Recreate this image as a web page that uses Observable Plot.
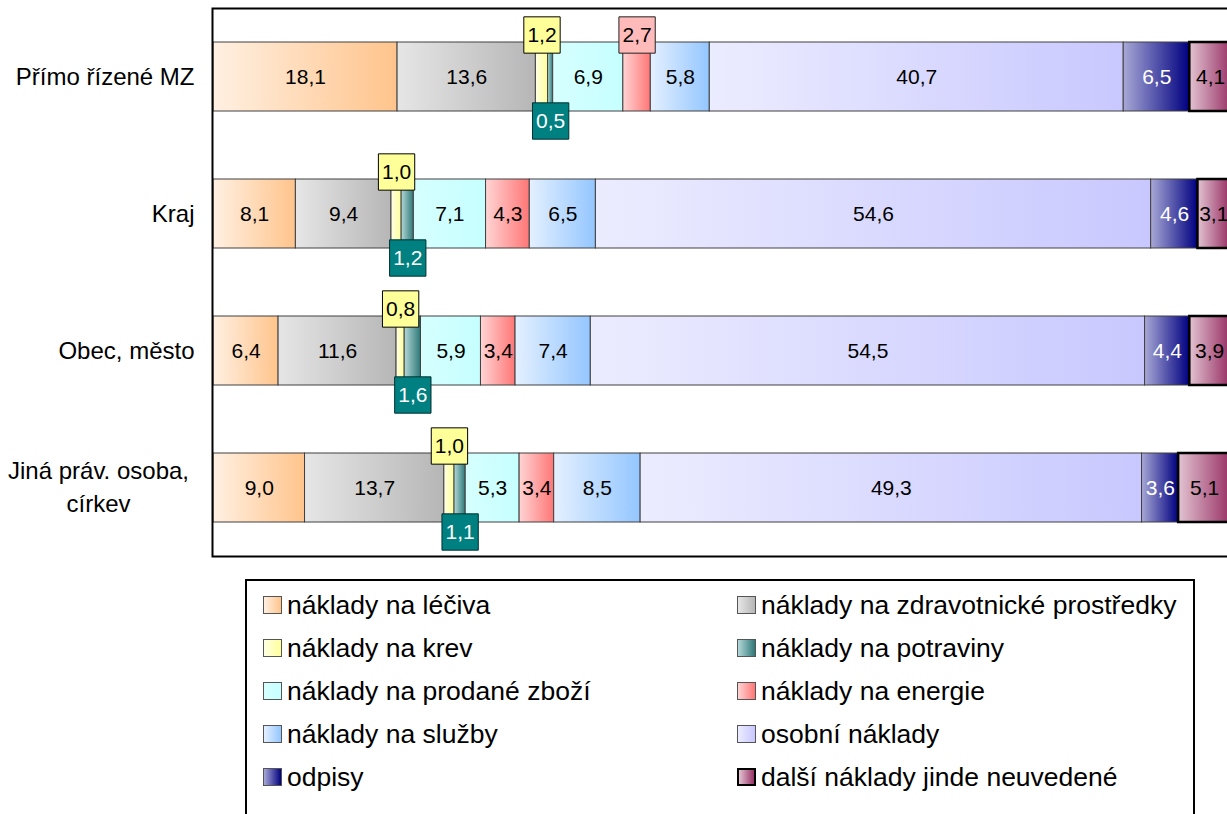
<!DOCTYPE html>
<html><head><meta charset="utf-8">
<script src="https://cdn.jsdelivr.net/npm/d3@7"></script>
<script src="https://cdn.jsdelivr.net/npm/@observablehq/plot@0.6"></script>
<style>
html,body{margin:0;padding:0;overflow:hidden;background:#fff;width:1227px;height:814px;}
#chart svg{max-width:none;display:block;}
#legend{position:absolute;left:245px;top:579px;width:950px;height:260px;border:2px solid #000;box-sizing:border-box;font-family:"Liberation Sans",Arial,sans-serif;font-size:26.5px;color:#000;}
.item{position:absolute;height:30px;display:flex;align-items:center;white-space:nowrap;}
.sw{width:19px;height:18px;border:1px solid #555;margin-right:5px;box-sizing:border-box;}
</style></head><body>
<div id="chart"></div><div id="legend"></div>
<script>
const categories = ["Přímo řízené MZ", "Kraj", "Obec, město", "Jiná práv. osoba,\ncírkev"];
const series = ["náklady na léčiva", "náklady na zdravotnické prostředky", "náklady na krev", "náklady na potraviny", "náklady na prodané zboží", "náklady na energie", "náklady na služby", "osobní náklady", "odpisy", "další náklady jinde neuvedené"];
const primoMZ = [18.1, 13.6, 1.2, 0.5, 6.9, 2.7, 5.8, 40.7, 6.5, 4.1];
const kraj    = [8.1, 9.4, 1.0, 1.2, 7.1, 4.3, 6.5, 54.6, 4.6, 3.1];
const obec    = [6.4, 11.6, 0.8, 1.6, 5.9, 3.4, 7.4, 54.5, 4.4, 3.9];
const jina    = [9.0, 13.7, 1.0, 1.1, 5.3, 3.4, 8.5, 49.3, 3.6, 5.1];
const gradFrom = ["#fff0e2", "#e6e6e6", "#ffffe6", "#b4d8d8", "#d6ffff", "#ffd4d4", "#e4f0ff", "#ececff", "#a8a8d6", "#e2c4d2"];
const gradTo   = ["#ffc48c", "#b6b6b6", "#ffff99", "#2e7878", "#c6ffff", "#ff7676", "#94c6ff", "#c8c8ff", "#000080", "#993366"];

const rowsByCat = [primoMZ, kraj, obec, jina];
const data = [];
categories.forEach((c, ci) => {
  let acc = 0;
  rowsByCat[ci].forEach((v, si) => {
    data.push({cat: c, ci, series: series[si], si, value: v, x1: acc, x2: acc + v});
    acc += v;
  });
});
const fmt = d => d.value.toFixed(1).replace(".", ",");
const mid = d => (d.x1 + d.x2) / 2;
const isAbove = d => d.si === 2 || (d.si === 5 && d.value < 3);
const isBelow = d => d.si === 3;
const boxed = d => isAbove(d) || isBelow(d);
const inside = data.filter(d => !boxed(d));

const svg = Plot.plot({
  width: 1227,
  height: 565,
  marginLeft: 212,
  marginRight: -5,
  marginTop: 8,
  marginBottom: 9,
  style: {fontFamily: "'Liberation Sans', Arial, sans-serif", fontSize: "21px", background: "white"},
  x: {domain: [0, 100], range: [213, 1230], axis: null},
  y: {domain: categories, paddingInner: 0.5, paddingOuter: 0.25, axis: null},
  color: {type: "ordinal", domain: series, range: series.map((_, i) => `url(#grad${i})`)},
  marks: [
    Plot.barX(data, {x1: "x1", x2: "x2", y: "cat", fill: "series", stroke: "#404040", strokeWidth: 1}),
    Plot.barX(data.filter(d => d.si === 9), {x1: "x1", x2: "x2", y: "cat", fill: "none", stroke: "#000", strokeWidth: 2.5}),
    Plot.text(inside.filter(d => d.si !== 8), {x: mid, y: "cat", text: fmt, fill: "black", fontSize: 21}),
    Plot.text(inside.filter(d => d.si === 8), {x: mid, y: "cat", text: fmt, fill: "white", fontSize: 21}),
    Plot.dot(data.filter(d => d.si === 2), {x: mid, y: "cat", dy: -42, symbol: "square", r: 20.5, fill: "#ffff99", stroke: "#000", strokeWidth: 1}),
    Plot.dot(data.filter(d => d.si === 5 && d.value < 3), {x: mid, y: "cat", dy: -42, symbol: "square", r: 20.5, fill: "#ffbaba", stroke: "#222", strokeWidth: 1}),
    Plot.dot(data.filter(isBelow), {x: mid, y: "cat", dy: 44, symbol: "square", r: 20.5, fill: "#008080", stroke: "#003030", strokeWidth: 1}),
    Plot.text(data.filter(isAbove), {x: mid, y: "cat", dy: -42, text: fmt, fill: "black", fontSize: 21}),
    Plot.text(data.filter(isBelow), {x: mid, y: "cat", dy: 44, text: fmt, fill: "white", fontSize: 21}),
    Plot.text(categories.filter(c => !c.includes("\n")), {y: d => d, frameAnchor: "left", textAnchor: "end", dx: -18, text: d => d, fill: "black", fontSize: 24}),
    Plot.text(categories.filter(c => c.includes("\n")), {y: d => d, frameAnchor: "left", textAnchor: "middle", dx: -114, dy: -3, lineHeight: 1.375, text: d => d, fill: "black", fontSize: 24}),
    Plot.frame({stroke: "#000", strokeWidth: 2})
  ]
});

const defs = d3.select(svg).insert("defs", ":first-child");
series.forEach((s, i) => {
  const g = defs.append("linearGradient").attr("id", `grad${i}`).attr("x1", 0).attr("x2", 1).attr("y1", 0).attr("y2", 0);
  g.append("stop").attr("offset", "0%").attr("stop-color", gradFrom[i]);
  g.append("stop").attr("offset", "100%").attr("stop-color", gradTo[i]);
});
document.getElementById("chart").appendChild(svg);

const legend = d3.select("#legend");
series.forEach((s, i) => {
  const row = Math.floor(i / 2), col = i % 2;
  const item = legend.append("div").attr("class", "item")
    .style("left", (col ? 490 : 16) + "px")
    .style("top", (9 + 43 * row) + "px");
  item.append("div").attr("class", "sw")
    .style("background", `linear-gradient(to right, ${gradFrom[i]}, ${gradTo[i]})`)
    .style("border", i === 9 ? "2.5px solid #000" : "1px solid #555");
  item.append("span").text(s);
});
</script>
</body></html>
